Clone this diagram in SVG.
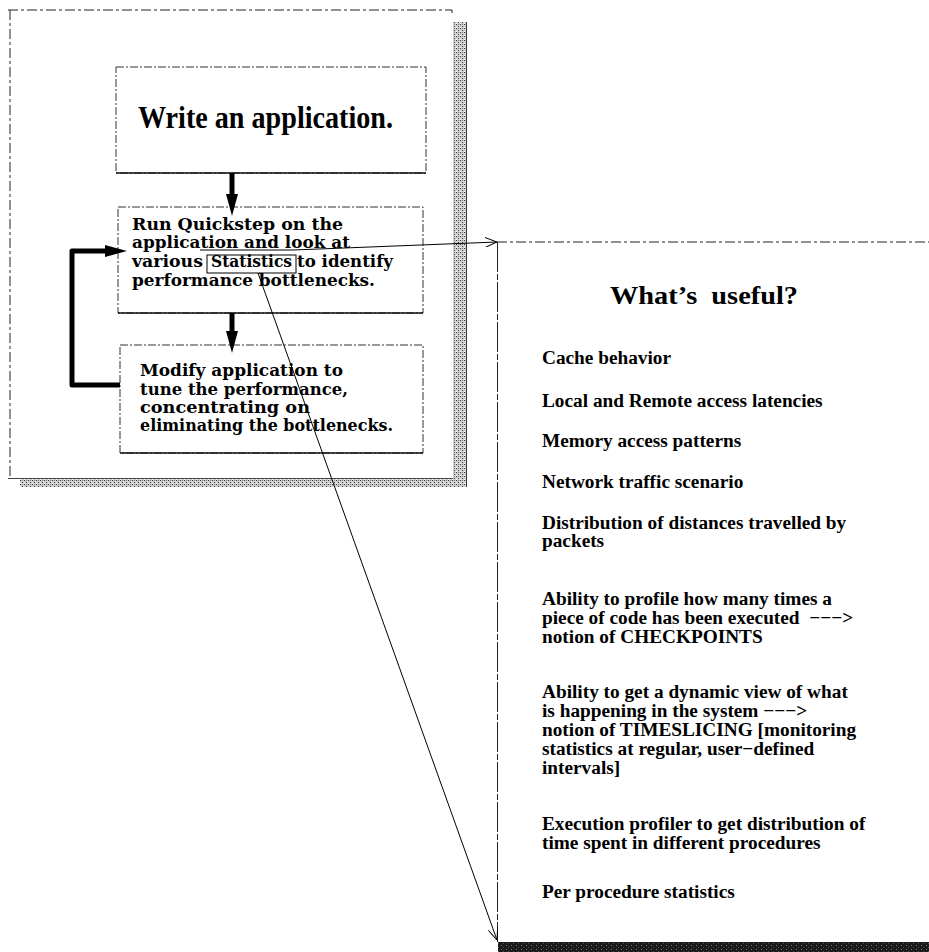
<svg xmlns="http://www.w3.org/2000/svg" width="929" height="952" viewBox="0 0 929 952">
<style>
.bg{fill:#fff}
.frame{fill:none;stroke:#222;stroke-width:1;stroke-dasharray:10 3 3 3}
.box{fill:#fff;stroke:#333;stroke-width:1;stroke-dasharray:8 2 2 2}
.solid{stroke:#111;stroke-width:1.3;fill:none}
.thick{stroke:#000;stroke-width:5;fill:none;stroke-linejoin:round}
.thin{stroke:#000;stroke-width:1;fill:none}
.big{font-family:"Liberation Serif","Times New Roman",serif;font-weight:bold;fill:#000}
.sch{font-family:"DejaVu Serif","Liberation Serif",serif;font-weight:bold;font-size:17px;fill:#000}
.item{font-family:"Liberation Serif","Times New Roman",serif;font-weight:bold;font-size:19.3px;fill:#000}
</style>
<defs>
<pattern id="stip" width="4" height="4" patternUnits="userSpaceOnUse">
<rect width="4" height="4" fill="#cfcfcf"/>
<rect x="0" y="0" width="1" height="1" fill="#333"/>
<rect x="2" y="2" width="1" height="1" fill="#444"/>
<rect x="2" y="0" width="1" height="1" fill="#888"/>
<rect x="0" y="3" width="1" height="1" fill="#fff"/>
</pattern>
<pattern id="dark" width="5" height="4" patternUnits="userSpaceOnUse">
<rect width="5" height="4" fill="#1a1a1a"/>
<rect x="1" y="1" width="1" height="1" fill="#777"/>
<rect x="3" y="3" width="1" height="1" fill="#555"/>
</pattern>
<marker id="tri" viewBox="0 0 22 12" refX="0" refY="6" markerWidth="22" markerHeight="12" markerUnits="userSpaceOnUse" orient="auto">
<path d="M0,0 L22,6 L0,12 z" fill="#000"/>
</marker>
<marker id="vee" viewBox="0 0 12 10" refX="12" refY="5" markerWidth="12" markerHeight="10" markerUnits="userSpaceOnUse" orient="auto">
<path d="M0,0 L12,5 L0,10" fill="none" stroke="#000" stroke-width="1"/>
</marker>
</defs>
<rect class="bg" width="929" height="952"/>

<g id="left-panel">
<rect x="453" y="22" width="14" height="465" fill="url(#stip)"/>
<rect x="20" y="479" width="447" height="8" fill="url(#stip)"/>
<line x1="466.5" y1="22" x2="466.5" y2="487" stroke="#333" stroke-width="1"/>
<path class="frame" d="M8,10 H452 V16"/>
<path class="frame" d="M10,10 V478"/>
<line x1="8" y1="478.5" x2="453" y2="478.5" stroke="#444" stroke-width="1"/>
</g>

<g id="node-write">
<rect class="box" x="116" y="67" width="310" height="106"/>
<line class="solid" x1="116" y1="173" x2="426" y2="173"/>
<text class="big" x="138" y="128" font-size="32" textLength="255" lengthAdjust="spacingAndGlyphs">Write an application.</text>
</g>

<g id="node-run">
<rect class="box" x="118" y="207" width="305" height="106"/>
<line class="solid" x1="118" y1="313" x2="423" y2="313"/>
<text class="sch" x="132" y="230" textLength="211" lengthAdjust="spacingAndGlyphs">Run Quickstep on the</text>
<text class="sch" x="132" y="248" textLength="218" lengthAdjust="spacingAndGlyphs">application and look at</text>
<text class="sch" x="132" y="267" textLength="71" lengthAdjust="spacingAndGlyphs">various</text>
<text class="sch" x="297" y="267" textLength="96" lengthAdjust="spacingAndGlyphs">to identify</text>
<text class="sch" x="132" y="286" textLength="243" lengthAdjust="spacingAndGlyphs">performance bottlenecks.</text>
</g>

<g id="node-statistics">
<rect x="207" y="255" width="89" height="18" fill="none" stroke="#000" stroke-width="1"/>
<text class="sch" x="211" y="267" font-size="12" textLength="81" lengthAdjust="spacingAndGlyphs">Statistics</text>
</g>

<g id="node-modify">
<rect class="box" x="120" y="345" width="303" height="108"/>
<line class="solid" x1="120" y1="453" x2="423" y2="453"/>
<text class="sch" x="140" y="376" textLength="203" lengthAdjust="spacingAndGlyphs">Modify application to</text>
<text class="sch" x="140" y="395" textLength="208" lengthAdjust="spacingAndGlyphs">tune the performance,</text>
<text class="sch" x="140" y="413" textLength="170" lengthAdjust="spacingAndGlyphs">concentrating on</text>
<text class="sch" x="140" y="431" textLength="253" lengthAdjust="spacingAndGlyphs">eliminating the bottlenecks.</text>
</g>

<g id="right-panel">
<rect x="498" y="942" width="431" height="10" fill="url(#dark)"/>
<path class="frame" d="M497,242 H929"/>
<line x1="497.5" y1="242" x2="497.5" y2="942" stroke="#222" stroke-width="1" stroke-dasharray="30 2 6 2"/>
<text class="big" x="610" y="304" font-size="25" textLength="188" lengthAdjust="spacingAndGlyphs" xml:space="preserve">What’s  useful?</text>
<text class="item" x="542" y="364">Cache behavior</text>
<text class="item" x="542" y="407">Local and Remote access latencies</text>
<text class="item" x="542" y="447">Memory access patterns</text>
<text class="item" x="542" y="488">Network traffic scenario</text>
<text class="item" x="542" y="529">Distribution of distances travelled by</text>
<text class="item" x="542" y="547">packets</text>
<text class="item" x="542" y="605">Ability to profile how many times a</text>
<text class="item" x="542" y="624" xml:space="preserve">piece of code has been executed  −−−&gt;</text>
<text class="item" x="542" y="643">notion of CHECKPOINTS</text>
<text class="item" x="542" y="698">Ability to get a dynamic view of what</text>
<text class="item" x="542" y="717">is happening in the system −−−&gt;</text>
<text class="item" x="542" y="736">notion of TIMESLICING [monitoring</text>
<text class="item" x="542" y="755">statistics at regular, user−defined</text>
<text class="item" x="542" y="774">intervals]</text>
<text class="item" x="542" y="830">Execution profiler to get distribution of</text>
<text class="item" x="542" y="849">time spent in different procedures</text>
<text class="item" x="542" y="898">Per procedure statistics</text>
</g>

<g id="connectors">
<line class="thick" x1="232" y1="173" x2="232" y2="194" marker-end="url(#tri)"/>
<line class="thick" x1="232" y1="313" x2="232" y2="331" marker-end="url(#tri)"/>
<path class="thick" d="M120,385 H72 V251 H105" marker-end="url(#tri)"/>
<path class="thin" d="M200,250 H293 L497,242" marker-end="url(#vee)"/>
<line class="thin" x1="258" y1="273" x2="497" y2="940" marker-end="url(#vee)"/>
</g>
</svg>
